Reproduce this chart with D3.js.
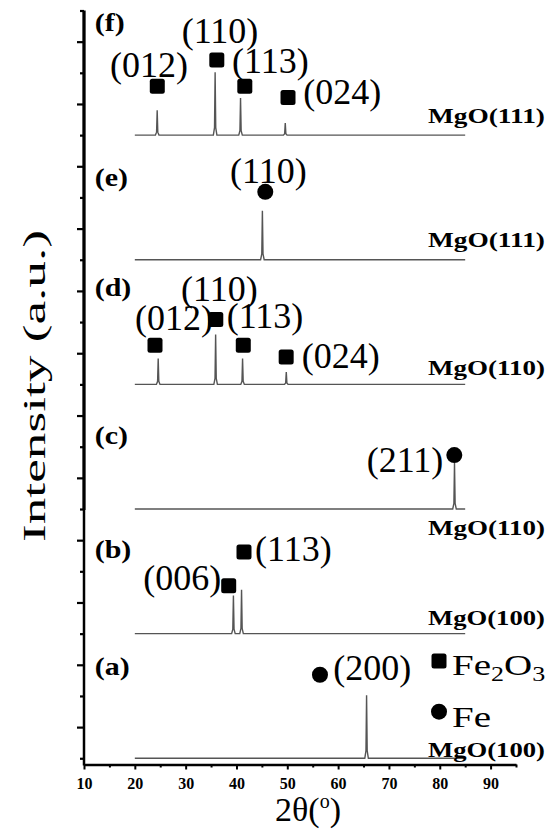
<!DOCTYPE html>
<html>
<head>
<meta charset="utf-8">
<script src="https://cdn.jsdelivr.net/npm/d3@7"></script>
<style>
  body { margin: 0; background: #fff; }
  svg text { font-family: 'Liberation Serif', 'Times New Roman', serif; }
</style>
</head>
<body>
<div id="chart"></div>
<script>
// XRD patterns, six stacked panels (a) to (f)

const panelNames = ['(a)', '(b)', '(c)', '(d)', '(e)', '(f)'];
const substrates = ['MgO(100)', 'MgO(100)', 'MgO(110)', 'MgO(110)', 'MgO(111)', 'MgO(111)'];
const offsets = [0, 4, 8, 12, 16, 20];

// peaks per panel: [2theta, height]
const peaksA = [[65.6, 2.02]];
const peaksB = [[39.4, 1.22], [41.0, 1.41]];
const peaksC = [[82.9, 1.48]];
const peaksD = [[24.6, 0.83], [35.9, 1.60], [41.2, 0.83], [49.8, 0.40]];
const peaksE = [[45.1, 1.57]];
const peaksF = [[24.4, 0.80], [35.8, 2.02], [40.8, 1.19], [49.6, 0.39]];
const allPeaks = [peaksA, peaksB, peaksC, peaksD, peaksE, peaksF];
const scanRange = [20, 85];

// phase markers: [type, 2theta, intensity]
const markers = [
  ['sq', 24.42, 21.57], ['sq', 36.13, 22.41], ['sq', 41.64, 21.57], ['sq', 50.14, 21.21],
  ['ci', 45.67, 18.18],
  ['sq', 23.97, 13.26], ['sq', 35.93, 14.08], ['sq', 41.34, 13.26], ['sq', 49.78, 12.88],
  ['ci', 82.86, 9.73],
  ['sq', 38.47, 5.54], ['sq', 41.48, 6.62],
  ['ci', 56.43, 2.68]
];

// reflection labels: [text, 2theta, intensity, anchor]
const hklLabels = [
  ['(012)', 15.12, 21.87, 'start'], ['(110)', 29.22, 22.96, 'start'], ['(113)', 39.12, 21.99, 'start'], ['(024)', 53.15, 21.0, 'start'],
  ['(110)', 38.73, 18.45, 'start'],
  ['(012)', 20.03, 13.74, 'start'], ['(110)', 29.09, 14.67, 'start'], ['(113)', 38.08, 13.80, 'start'], ['(024)', 52.83, 12.52, 'start'],
  ['(211)', 80.70, 9.19, 'end'],
  ['(006)', 21.67, 5.40, 'start'], ['(113)', 43.65, 6.33, 'start'],
  ['(200)', 59.05, 2.51, 'start']
];

// panel letter and substrate label positions (intensity units)
const panelLabelY = [2.67, 6.43, 10.09, 14.84, 18.37, 23.34];
const substrateLabelY = [0.04, 4.28, 7.17, 12.30, 16.42, 20.38];
const panelLabelX = 12.1;
const substrateLabelX = 77.68;

const xTicks = [10, 20, 30, 40, 50, 60, 70, 80, 90];
const xMinorTicks = [15, 25, 35, 45, 55, 65, 75, 85, 95];

const W = 550, H = 830;
const svg = d3.select('#chart').append('svg')
  .attr('width', W).attr('height', H);

const x = d3.scaleLinear().domain([10, 95]).range([84, 516]);
const y = d3.scaleLinear().domain([-0.2, 24]).range([764.5, 10.5]);
const axisBottomY = y(-0.2);

// patterns
const line = d3.line().x(d => x(d[0])).y(d => y(d[1]));
allPeaks.forEach((peaks, i) => {
  const off = offsets[i];
  const pts = [[scanRange[0], off]];
  peaks.forEach(([p, h]) => {
    pts.push([p - 0.35, off], [p - 0.12, off + h * 0.12], [p, off + h],
             [p + 0.12, off + h * 0.12], [p + 0.35, off]);
  });
  pts.push([scanRange[1], off]);
  svg.append('path')
    .attr('d', line(pts))
    .attr('fill', 'none')
    .attr('stroke', '#555')
    .attr('stroke-width', 1.4);
});

// markers
markers.forEach(([t, mx, my]) => {
  if (t === 'sq') {
    svg.append('rect')
      .attr('x', x(mx) - 7.5).attr('y', y(my) - 7.5)
      .attr('width', 15).attr('height', 15)
      .attr('rx', 2.5).attr('fill', '#000');
  } else {
    svg.append('circle')
      .attr('cx', x(mx)).attr('cy', y(my)).attr('r', 8)
      .attr('fill', '#000');
  }
});

// hkl labels
hklLabels.forEach(([t, lx, ly, anchor]) => {
  svg.append('text')
    .attr('x', x(lx)).attr('y', y(ly))
    .attr('text-anchor', anchor)
    .style('font-size', '36px').style('fill', '#000')
    .text(t);
});

// panel letters
panelNames.forEach((t, i) => {
  svg.append('text')
    .attr('transform', `translate(${x(panelLabelX)},${y(panelLabelY[i])}) scale(1.2,1)`)
    .style('font-size', '25px').style('font-weight', 'bold')
    .text(t);
});

// substrate labels
substrates.forEach((t, i) => {
  svg.append('text')
    .attr('x', x(substrateLabelX)).attr('y', y(substrateLabelY[i]))
    .attr('textLength', 117).attr('lengthAdjust', 'spacingAndGlyphs')
    .style('font-size', '22px').style('font-weight', 'bold')
    .text(t);
});

// x axis
const xAxis = svg.append('g')
  .attr('transform', `translate(0,${axisBottomY})`)
  .call(d3.axisBottom(x).tickValues(xTicks).tickSize(5).tickSizeOuter(0));
xAxis.select('.domain').attr('stroke-width', 2.5);
xAxis.selectAll('line').attr('stroke-width', 2);
xAxis.selectAll('text')
  .attr('y', 24).attr('dy', null)
  .style('font-size', '16px').style('font-weight', 'bold')
  .style('font-family', "'Liberation Serif', serif");

svg.append('g')
  .attr('transform', `translate(0,${axisBottomY})`)
  .call(d3.axisBottom(x).tickValues(xMinorTicks).tickSize(3).tickFormat(''))
  .call(g => g.select('.domain').remove())
  .call(g => g.selectAll('line').attr('stroke-width', 2));

// y axis (no labels)
svg.append('g')
  .attr('transform', 'translate(84,0)')
  .call(d3.axisLeft(y).tickValues(d3.range(1, 24, 2)).tickSize(7).tickFormat(''))
  .call(g => g.select('.domain').remove())
  .call(g => g.selectAll('line').attr('stroke-width', 2.2));
svg.append('g')
  .attr('transform', 'translate(84,0)')
  .call(d3.axisLeft(y).tickValues(d3.range(0, 25, 2)).tickSize(4).tickFormat(''))
  .call(g => g.select('.domain').remove())
  .call(g => g.selectAll('line').attr('stroke-width', 2.2));

svg.append('line')
  .attr('x1', 84).attr('x2', 84).attr('y1', y(24)).attr('y2', 510)
  .attr('stroke', '#000').attr('stroke-width', 3.3);
svg.append('line')
  .attr('x1', 84).attr('x2', 84).attr('y1', 510).attr('y2', axisBottomY + 1)
  .attr('stroke', '#000').attr('stroke-width', 2.5);

// axis titles
svg.append('text')
  .attr('transform', 'translate(45,386) rotate(-90)')
  .attr('text-anchor', 'middle')
  .attr('textLength', 312).attr('lengthAdjust', 'spacingAndGlyphs')
  .style('font-size', '31px')
  .text('Intensity (a.u.)');

const xt = svg.append('text')
  .attr('x', 308).attr('y', 821)
  .attr('text-anchor', 'middle')
  .style('font-size', '34px');
xt.append('tspan').text('2θ(');
xt.append('tspan').attr('dy', -13).style('font-size', '20px').text('o');
xt.append('tspan').attr('dy', 13).text(')');

// legend
const legend = svg.append('g');
legend.append('rect')
  .attr('x', 431.5).attr('y', 653.5).attr('width', 15).attr('height', 15)
  .attr('rx', 2.5).attr('fill', '#000');
legend.append('circle')
  .attr('cx', 439).attr('cy', 711.7).attr('r', 8).attr('fill', '#000');

const leg1 = legend.append('text')
  .attr('transform', 'translate(452,675) scale(1.3,1)')
  .style('font-size', '30px');
leg1.append('tspan').text('Fe');
leg1.append('tspan').attr('dy', 6).style('font-size', '20px').text('2');
leg1.append('tspan').attr('dy', -6).text('O');
leg1.append('tspan').attr('dy', 6).style('font-size', '20px').text('3');

legend.append('text')
  .attr('transform', 'translate(452,727) scale(1.3,1)')
  .style('font-size', '30px')
  .text('Fe');
</script>
</body>
</html>
